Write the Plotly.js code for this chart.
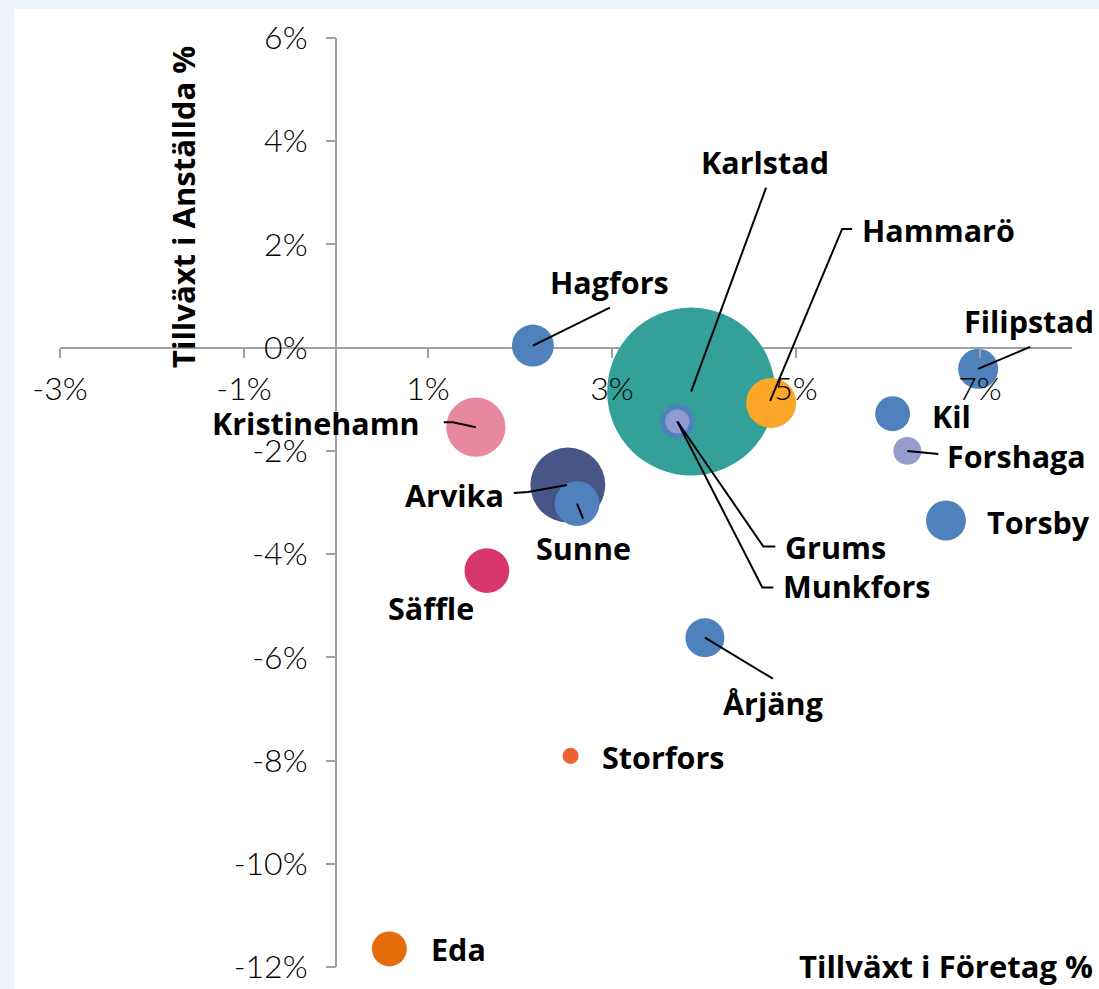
<!DOCTYPE html>
<html>
<head>
<meta charset="utf-8">
<script src="https://cdn.plot.ly/plotly-3.0.1.min.js"></script>
<style>
  html, body { margin: 0; padding: 0; background: #eef3f9; width: 1099px; height: 989px; overflow: hidden; }
  #chart { position: absolute; left: 14px; top: 9px; width: 1085px; height: 980px; background: #ffffff; }
</style>
</head>
<body>
<div id="chart"></div>
<script>
// ---- Data ----
const kommuner  = ['Karlstad','Arvika','Kristinehamn','Hammarö','Sunne','Säffle','Hagfors','Filipstad','Torsby','Årjäng','Kil','Eda','Grums','Forshaga','Munkfors','Storfors'];
const foretagTillvaxt   = [3.86, 2.52, 1.52, 4.73, 2.62, 1.64, 2.14, 6.98, 6.63, 4.01, 6.05, 0.58, 3.71, 6.21, 3.71, 2.55];
const anstalldaTillvaxt = [-0.85, -2.66, -1.54, -1.07, -3.02, -4.32, 0.04, -0.41, -3.35, -5.62, -1.28, -11.65, -1.43, -2.00, -1.43, -7.91];
const storlek   = [282, 56, 35, 25, 20, 20, 17.6, 16, 16, 15.2, 12.2, 12.2, 11.6, 7.8, 5.8, 2.6];
const farger    = ['#33a19a','#475588','#e8889f','#fba529','#4f81bd','#d7376a','#4f81bd','#4f81bd','#4f81bd','#4f81bd','#4f81bd','#e46c0a','#4f81bd','#959ccb','#8f9bd2','#ec6431'];

const xTickVals = [-3, -1, 1, 3, 5, 7];
const xTickText = ['-3%', '-1%', '1%', '3%', '5%', '7%'];
const yTickVals = [6, 4, 2, 0, -2, -4, -6, -8, -10, -12];
const yTickText = ['6%', '4%', '2%', '0%', '-2%', '-4%', '-6%', '-8%', '-10%', '-12%'];

// ---- Label placement (pixel offsets from bubble centre; down = positive) ----
const labelOffset = {
  'Karlstad': [74, -230], 'Arvika': [-113, 10], 'Kristinehamn': [-160, -4], 'Hammarö': [167, -173],
  'Sunne': [6, 44], 'Säffle': [-56, 37], 'Hagfors': [77, -64], 'Filipstad': [51, -48],
  'Torsby': [93, 1], 'Årjäng': [68, 65], 'Kil': [59, 2], 'Eda': [69, 0],
  'Grums': [158, 126], 'Forshaga': [109, 5], 'Munkfors': [179, 165], 'Storfors': [92, 1]
};
// leader line polylines (pixel offsets from bubble centre; down = positive)
const leaders = {
  'Karlstad': [[0,0],[75,-204]],
  'Hammarö': [[-1,-2],[71,-174],[81,-174]],
  'Hagfors': [[0,0],[77,-38]],
  'Filipstad': [[0,0],[52,-22]],
  'Forshaga': [[0,0],[31,3]],
  'Grums': [[0,0],[86,125],[98,125]],
  'Munkfors': [[0,0],[85,166],[96,166]],
  'Kristinehamn': [[-32,-5],[-23,-5],[0,0]],
  'Arvika': [[-54,8],[-40,7],[-1,0]],
  'Sunne': [[0,0],[6,15]],
  'Årjäng': [[0,0],[68,41]]
};

const labelFont = { family: 'Open Sans, DejaVu Sans, sans-serif', size: 30.5, color: '#000000', weight: 700 };
const titleFont = { family: 'Open Sans, DejaVu Sans, sans-serif', size: 31, color: '#000000', weight: 700 };
const tickFont  = { family: 'Lato, Open Sans, sans-serif', size: 32, color: '#000000', weight: 300 };
const axisGrey = '#a0a0a0';

const trace = {
  type: 'scatter',
  mode: 'markers',
  x: foretagTillvaxt,
  y: anstalldaTillvaxt,
  text: kommuner,
  hoverinfo: 'text',
  marker: {
    size: storlek,
    sizemode: 'area',
    sizeref: 0.02,
    color: farger,
    opacity: 1,
    line: { width: 0 }
  }
};

const annotations = [];
const shapes = [];
kommuner.forEach((k, i) => {
  const off = labelOffset[k];
  annotations.push({
    x: foretagTillvaxt[i], y: anstalldaTillvaxt[i], xref: 'x', yref: 'y',
    text: k, showarrow: false, xanchor: 'center', yanchor: 'middle',
    xshift: off[0], yshift: -off[1], font: labelFont
  });
  const pts = leaders[k];
  if (pts) {
    const path = pts.map((p, j) => (j === 0 ? 'M' : 'L') + p[0] + ',' + (-p[1])).join(' ');
    shapes.push({
      type: 'path', layer: 'above',
      xref: 'x', yref: 'y',
      xsizemode: 'pixel', ysizemode: 'pixel',
      xanchor: foretagTillvaxt[i], yanchor: anstalldaTillvaxt[i],
      path: path,
      line: { color: '#000000', width: 2 }
    });
  }
});

annotations.push({
  xref: 'paper', yref: 'paper', x: 0.1215, y: 0.818,
  text: 'Tillväxt i Anställda %', textangle: -90, showarrow: false,
  xanchor: 'center', yanchor: 'middle', font: titleFont
});
annotations.push({
  xref: 'paper', yref: 'paper', x: 0.8755, y: 0, yshift: 1,
  text: 'Tillväxt i Företag %', showarrow: false,
  xanchor: 'center', yanchor: 'middle', borderpad: 0, font: titleFont
});

const layout = {
  width: 1085, height: 980,
  margin: { l: 46, r: 27, t: 29, b: 22 },
  paper_bgcolor: '#ffffff', plot_bgcolor: '#ffffff',
  showlegend: false,
  xaxis: {
    range: [-3, 8], anchor: 'free', position: 12 / 18,
    tickvals: xTickVals, ticktext: xTickText,
    ticks: 'outside', ticklen: 9, tickwidth: 2, tickcolor: axisGrey,
    ticklabelstandoff: 4,
    showline: false, showgrid: false,
    zeroline: true, zerolinecolor: axisGrey, zerolinewidth: 2,
    tickfont: tickFont, fixedrange: true
  },
  yaxis: {
    range: [-12, 6], anchor: 'free', position: 3 / 11,
    tickvals: yTickVals, ticktext: yTickText,
    ticks: 'outside', ticklen: 10, tickwidth: 2, tickcolor: axisGrey,
    ticklabelstandoff: 12,
    showline: false, showgrid: false,
    zeroline: true, zerolinecolor: axisGrey, zerolinewidth: 2,
    tickfont: tickFont, fixedrange: true
  },
  annotations: annotations,
  shapes: shapes
};

Plotly.newPlot('chart', [trace], layout, { displayModeBar: false, staticPlot: true });
</script>
</body>
</html>
